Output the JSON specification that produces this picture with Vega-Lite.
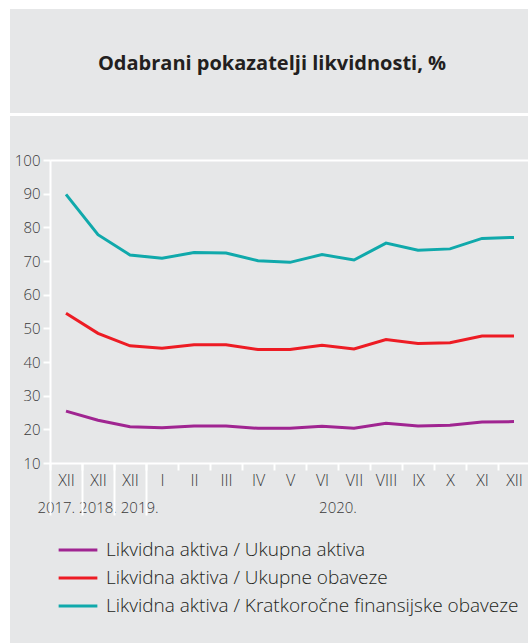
{
  "$schema": "https://vega.github.io/schema/vega-lite/v6.json",
  "background": "white",
  "padding": {"left": 10, "top": 9, "right": 0, "bottom": 0},
  "spacing": 3,
  "config": {"view": {"stroke": null}, "concat": {"spacing": 3}},
  "vconcat": [
    {
      "width": 518,
      "height": 104,
      "view": {"fill": "#e6e7e8", "stroke": null},
      "data": {"values": [{"t": "Odabrani pokazatelji likvidnosti, %"}]},
      "mark": {"type": "text", "font": "Open Sans", "fontSize": 20, "fontWeight": "bold", "color": "#231f20", "baseline": "middle", "align": "center", "dx": 3, "dy": 3},
      "encoding": {"text": {"field": "t", "type": "nominal"}}
    },
    {
      "width": 518,
      "height": 527,
      "view": {"fill": "#e6e7e8", "stroke": null},
      "resolve": {"axis": {"x": "independent", "y": "independent"}},
      "layer": [
        {
          "data": {"values": [
            {"period": "XII 2017", "series": "Likvidna aktiva / Ukupna aktiva", "value": 25.4},
            {"period": "XII 2018", "series": "Likvidna aktiva / Ukupna aktiva", "value": 22.7},
            {"period": "XII 2019", "series": "Likvidna aktiva / Ukupna aktiva", "value": 20.8},
            {"period": "I", "series": "Likvidna aktiva / Ukupna aktiva", "value": 20.5},
            {"period": "II", "series": "Likvidna aktiva / Ukupna aktiva", "value": 21.0},
            {"period": "III", "series": "Likvidna aktiva / Ukupna aktiva", "value": 21.0},
            {"period": "IV", "series": "Likvidna aktiva / Ukupna aktiva", "value": 20.3},
            {"period": "V", "series": "Likvidna aktiva / Ukupna aktiva", "value": 20.3},
            {"period": "VI", "series": "Likvidna aktiva / Ukupna aktiva", "value": 20.9},
            {"period": "VII", "series": "Likvidna aktiva / Ukupna aktiva", "value": 20.3},
            {"period": "VIII", "series": "Likvidna aktiva / Ukupna aktiva", "value": 21.8},
            {"period": "IX", "series": "Likvidna aktiva / Ukupna aktiva", "value": 21.0},
            {"period": "X", "series": "Likvidna aktiva / Ukupna aktiva", "value": 21.2},
            {"period": "XI", "series": "Likvidna aktiva / Ukupna aktiva", "value": 22.2},
            {"period": "XII", "series": "Likvidna aktiva / Ukupna aktiva", "value": 22.3},
            {"period": "XII 2017", "series": "Likvidna aktiva / Ukupne obaveze", "value": 54.5},
            {"period": "XII 2018", "series": "Likvidna aktiva / Ukupne obaveze", "value": 48.5},
            {"period": "XII 2019", "series": "Likvidna aktiva / Ukupne obaveze", "value": 44.8},
            {"period": "I", "series": "Likvidna aktiva / Ukupne obaveze", "value": 44.1},
            {"period": "II", "series": "Likvidna aktiva / Ukupne obaveze", "value": 45.1},
            {"period": "III", "series": "Likvidna aktiva / Ukupne obaveze", "value": 45.1},
            {"period": "IV", "series": "Likvidna aktiva / Ukupne obaveze", "value": 43.7},
            {"period": "V", "series": "Likvidna aktiva / Ukupne obaveze", "value": 43.7},
            {"period": "VI", "series": "Likvidna aktiva / Ukupne obaveze", "value": 45.0},
            {"period": "VII", "series": "Likvidna aktiva / Ukupne obaveze", "value": 43.9},
            {"period": "VIII", "series": "Likvidna aktiva / Ukupne obaveze", "value": 46.7},
            {"period": "IX", "series": "Likvidna aktiva / Ukupne obaveze", "value": 45.5},
            {"period": "X", "series": "Likvidna aktiva / Ukupne obaveze", "value": 45.7},
            {"period": "XI", "series": "Likvidna aktiva / Ukupne obaveze", "value": 47.7},
            {"period": "XII", "series": "Likvidna aktiva / Ukupne obaveze", "value": 47.7},
            {"period": "XII 2017", "series": "Likvidna aktiva / Kratkoročne finansijske obaveze", "value": 89.8},
            {"period": "XII 2018", "series": "Likvidna aktiva / Kratkoročne finansijske obaveze", "value": 77.8},
            {"period": "XII 2019", "series": "Likvidna aktiva / Kratkoročne finansijske obaveze", "value": 71.8},
            {"period": "I", "series": "Likvidna aktiva / Kratkoročne finansijske obaveze", "value": 70.8},
            {"period": "II", "series": "Likvidna aktiva / Kratkoročne finansijske obaveze", "value": 72.5},
            {"period": "III", "series": "Likvidna aktiva / Kratkoročne finansijske obaveze", "value": 72.4},
            {"period": "IV", "series": "Likvidna aktiva / Kratkoročne finansijske obaveze", "value": 70.1},
            {"period": "V", "series": "Likvidna aktiva / Kratkoročne finansijske obaveze", "value": 69.6},
            {"period": "VI", "series": "Likvidna aktiva / Kratkoročne finansijske obaveze", "value": 71.9},
            {"period": "VII", "series": "Likvidna aktiva / Kratkoročne finansijske obaveze", "value": 70.3},
            {"period": "VIII", "series": "Likvidna aktiva / Kratkoročne finansijske obaveze", "value": 75.3},
            {"period": "IX", "series": "Likvidna aktiva / Kratkoročne finansijske obaveze", "value": 73.2},
            {"period": "X", "series": "Likvidna aktiva / Kratkoročne finansijske obaveze", "value": 73.6},
            {"period": "XI", "series": "Likvidna aktiva / Kratkoročne finansijske obaveze", "value": 76.7},
            {"period": "XII", "series": "Likvidna aktiva / Kratkoročne finansijske obaveze", "value": 77.0}
          ]},
          "mark": {"type": "line", "strokeWidth": 3},
          "encoding": {
            "x": {
              "field": "period", "type": "ordinal", "sort": null,
              "scale": {"type": "band", "domain": ["XII 2017", "XII 2018", "XII 2019", "I", "II", "III", "IV", "V", "VI", "VII", "VIII", "IX", "X", "XI", "XII"], "range": [40, 520], "paddingInner": 0, "paddingOuter": 0},
              "axis": {"orient": "bottom", "offset": -180, "title": null, "labelExpr": "isValid(datum.value) ? split(datum.value, ' ')[0] : ''", "tickBand": "extent", "domainColor": "white", "domainWidth": 2, "tickColor": "white", "tickWidth": 2, "tickSize": 7, "labelPadding": 2, "labelFont": "Open Sans", "labelFontSize": 16, "labelFontWeight": 300, "labelColor": "#3a3a3a", "labelAngle": 0, "labelOverlap": false, "grid": false, "zindex": 1}
            },
            "y": {
              "field": "value", "type": "quantitative",
              "scale": {"domain": [10, 100], "range": [347, 44], "nice": false, "zero": false},
              "axis": {"orient": "left", "offset": -40, "title": null, "values": [10, 20, 30, 40, 50, 60, 70, 80, 90, 100], "domainColor": "white", "domainWidth": 2, "tickColor": "white", "tickWidth": 2, "tickSize": 7, "labelPadding": 3, "labelFont": "Open Sans", "labelFontSize": 15, "labelFontWeight": 300, "labelColor": "#3a3a3a", "grid": true, "gridColor": "white", "gridWidth": 2, "gridOpacity": {"condition": {"test": "datum.value == 100", "value": 1}, "value": 0}}
            },
            "color": {
              "field": "series", "type": "nominal",
              "scale": {"domain": ["Likvidna aktiva / Ukupna aktiva", "Likvidna aktiva / Ukupne obaveze", "Likvidna aktiva / Kratkoročne finansijske obaveze"], "range": ["#a02591", "#ed1c24", "#10a9ab"]},
              "legend": {"orient": "none", "legendX": 47, "legendY": 532, "title": null, "padding": 0, "symbolType": "stroke", "symbolSize": 1500, "symbolStrokeWidth": 3, "clipHeight": 18, "rowPadding": 9, "labelOffset": 7, "labelFont": "Open Sans", "labelFontSize": 19, "labelFontWeight": 300, "labelColor": "#231f20", "labelLimit": 500}
            }
          }
        },
        {
          "data": {"values": [{"period": "XII 2018", "label": "2017. 2018. 2019."}]},
          "mark": {"type": "text", "font": "Open Sans", "fontSize": 15, "fontWeight": 300, "color": "#3a3a3a", "align": "center", "baseline": "alphabetic"},
          "encoding": {
            "x": {"field": "period", "type": "ordinal", "axis": {"orient": "bottom", "offset": -180, "title": null, "labels": false, "domain": false, "values": ["XII 2017", "XII 2018", "XII 2019", "I"], "bandPosition": 0, "tickColor": "white", "tickWidth": 2, "tickSize": 52, "grid": false, "zindex": 1}},
            "y": {"datum": -4.85, "axis": null},
            "text": {"field": "label", "type": "nominal"}
          }
        },
        {
          "data": {"values": [{"period": "VI", "label": "2020."}]},
          "mark": {"type": "text", "font": "Open Sans", "fontSize": 15, "fontWeight": 300, "color": "#3a3a3a", "align": "center", "baseline": "alphabetic"},
          "encoding": {
            "x": {"field": "period", "type": "ordinal", "bandPosition": 1, "axis": null},
            "y": {"datum": -4.85, "axis": null},
            "text": {"field": "label", "type": "nominal"}
          }
        }
      ]
    }
  ]
}
